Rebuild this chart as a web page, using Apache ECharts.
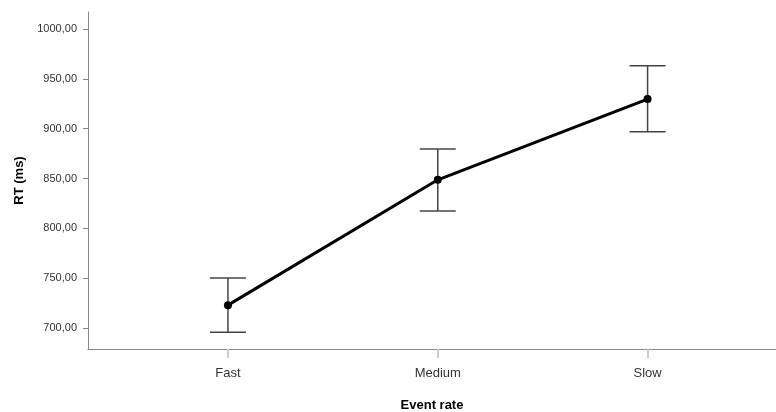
<!DOCTYPE html>
<html>
<head>
<meta charset="utf-8">
<script src="https://cdn.jsdelivr.net/npm/echarts@6/dist/echarts.min.js"></script>
<style>html,body{margin:0;padding:0;background:#fff}#c{width:776px;height:412px}</style>
</head>
<body>
<div id="c"></div>
<script>
var categories = ['Fast', 'Medium', 'Slow'];
var means = [723, 848.7, 929.7];
var lower = [695.7, 817.3, 897];
var upper = [750.3, 879.7, 963];
var yTicks = [700, 750, 800, 850, 900, 950, 1000];

var chart = echarts.init(document.getElementById('c'));
var lineData = categories.map(function (c, i) { return [i, means[i]]; });
var errData = categories.map(function (c, i) { return [i, lower[i], upper[i]]; });
var FONT = 'Liberation Sans, Arial, sans-serif';
chart.setOption({
  animation: false,
  grid: { left: 88, right: 0, top: 12, bottom: 63, outerBoundsMode: 'none', containLabel: false },
  xAxis: {
    type: 'value', min: -0.667, max: 2.612,
    name: 'Event rate', nameLocation: 'middle', nameGap: 50,
    nameTextStyle: { fontFamily: FONT, fontSize: 13, fontWeight: 'bold', color: '#000' },
    splitLine: { show: false },
    axisLine: { show: true, onZero: false, lineStyle: { color: '#888', width: 1 } },
    axisTick: { show: true, length: 9, customValues: [0, 1, 2], lineStyle: { color: '#ccc', width: 2 } },
    axisLabel: { customValues: [0, 1, 2], margin: 18, fontFamily: FONT, fontSize: 13, color: '#333',
      formatter: function (v) { return categories[Math.round(v)]; } }
  },
  yAxis: {
    type: 'value', min: 679, max: 1017,
    name: 'RT (ms)', nameLocation: 'middle', nameGap: 58,
    nameTextStyle: { fontFamily: FONT, fontSize: 13, fontWeight: 'bold', color: '#000' },
    splitLine: { show: false },
    axisLine: { show: true, onZero: false, lineStyle: { color: '#888', width: 1 } },
    axisTick: { show: true, length: 5, customValues: yTicks, lineStyle: { color: '#888' } },
    axisLabel: { customValues: yTicks, margin: 11, fontFamily: FONT, fontSize: 11, color: '#333',
      formatter: function (v) { return v.toFixed(2).replace('.', ','); } }
  },
  series: [
    {
      type: 'custom',
      data: errData,
      renderItem: function (params, api) {
        var x = api.value(0);
        var lo = api.coord([x, api.value(1)]);
        var hi = api.coord([x, api.value(2)]);
        var hw = 18;
        var st = { stroke: '#444', lineWidth: 1.5, fill: null };
        return { type: 'group', children: [
          { type: 'line', shape: { x1: lo[0], y1: lo[1], x2: hi[0], y2: hi[1] }, style: st },
          { type: 'line', shape: { x1: lo[0] - hw, y1: lo[1], x2: lo[0] + hw, y2: lo[1] }, style: st },
          { type: 'line', shape: { x1: hi[0] - hw, y1: hi[1], x2: hi[0] + hw, y2: hi[1] }, style: st }
        ] };
      },
      z: 1
    },
    {
      type: 'line',
      data: lineData,
      symbol: 'circle', symbolSize: 8,
      lineStyle: { color: '#000', width: 3 },
      itemStyle: { color: '#000' },
      z: 2
    }
  ]
});
</script>
</body>
</html>
